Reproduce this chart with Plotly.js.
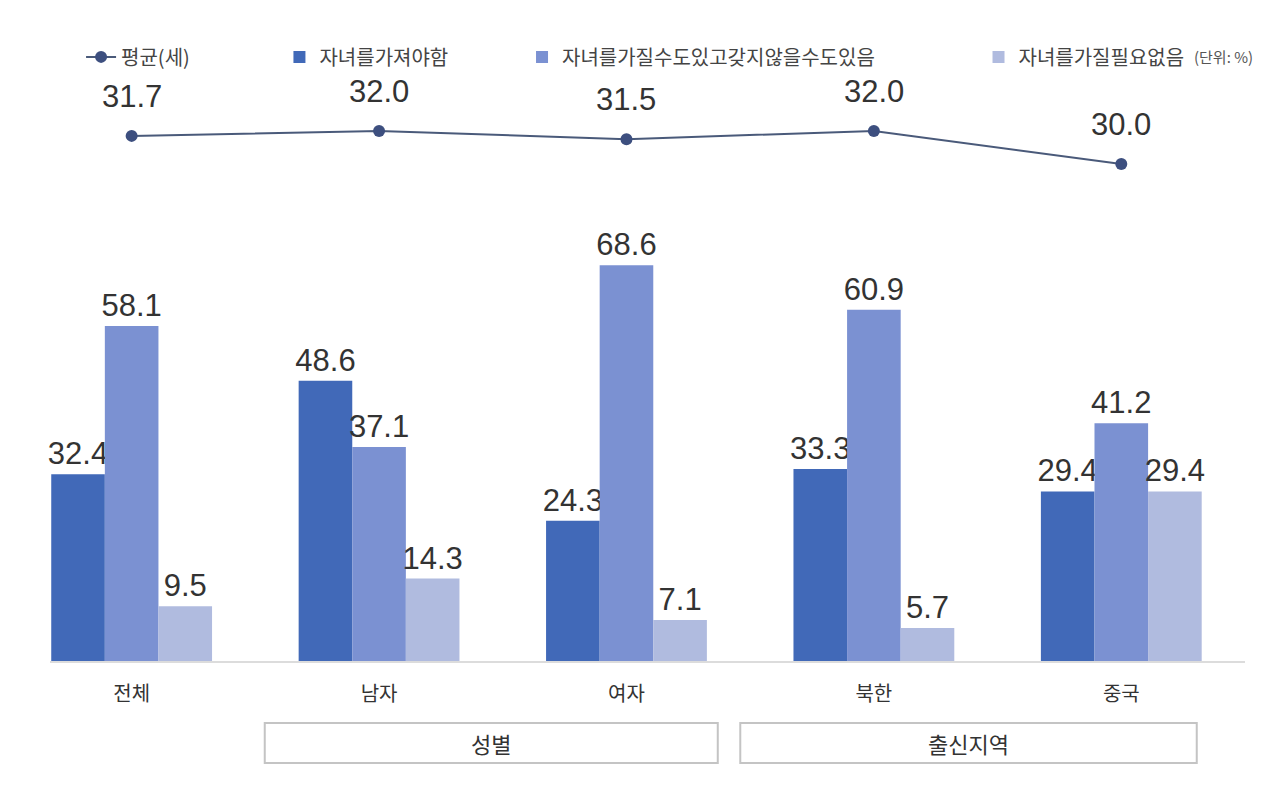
<!DOCTYPE html>
<html>
<head>
<meta charset="utf-8">
<script src="https://cdn.plot.ly/plotly-3.0.1.min.js"></script>
<style>
  html, body { margin: 0; padding: 0; background: #fff; }
  #myDiv { width: 1280px; height: 788px; }
</style>
</head>
<body>
<div id="myDiv"></div>
<script>
// Datos del gráfico
const categories = ['전체', '남자', '여자', '북한', '중국'];
const avgAge = [31.7, 32.0, 31.5, 32.0, 30.0];
const mustHave = [32.4, 48.6, 24.3, 33.3, 29.4];
const maybeHave = [58.1, 37.1, 68.6, 60.9, 41.2];
const noNeed = [9.5, 14.3, 7.1, 5.7, 29.4];
const seriesNames = ['평균(세)', '자녀를가져야함', '자녀를가질수도있고갖지않을수도있음', '자녀를가질필요없음'];
const groupLabels = ['성별', '출신지역'];

const FONT = 'Liberation Sans, Noto Sans CJK KR, sans-serif';
const KFONT = 'Noto Sans CJK KR, Liberation Sans, sans-serif';
const colors = ['#4169b8', '#7b91d2', '#b0bbdf'];

function barTrace(values, name, color, legend) {
    return {
        x: categories,
        y: values,
        name: name,
        type: 'bar',
        legend: legend,
        marker: { color: color },
        text: values.map(v => v.toFixed(1)),
        textposition: 'outside',
        constraintext: 'none',
        cliponaxis: false,
        textfont: { family: FONT, size: 31, color: '#333' },
        hoverinfo: 'none'
    };
}

let lineTrace = {
    x: categories,
    y: avgAge,
    name: seriesNames[0],
    type: 'scatter',
    mode: 'lines+markers',
    yaxis: 'y2',
    legend: 'legend',
    line: { color: '#4a5a7a', width: 2 },
    marker: { color: '#3d4f7f', size: 12 },
    cliponaxis: false,
    hoverinfo: 'none'
};

let traces = [
    lineTrace,
    barTrace(mustHave, seriesNames[1], colors[0], 'legend2'),
    barTrace(maybeHave, seriesNames[2], colors[1], 'legend3'),
    barTrace(noNeed, seriesNames[3], colors[2], 'legend4')
];

// Etiquetas de la línea (encima de los puntos)
let annotations = avgAge.map((v, i) => ({
    x: categories[i], y: v, xref: 'x', yref: 'y2',
    text: v.toFixed(1), showarrow: false,
    yanchor: 'bottom', yshift: 20,
    font: { family: FONT, size: 31, color: '#333' }
}));

// Cajas de agrupación
let boxes = [[0.538, 2.369], [2.46, 4.305]];
let shapes = boxes.map(b => ({
    type: 'rect', xref: 'x', yref: 'paper',
    x0: b[0], x1: b[1], y0: -0.1786, y1: -0.1086,
    line: { color: '#c4c4c4', width: 2 },
    fillcolor: 'rgba(0,0,0,0)'
}));
boxes.forEach((b, i) => {
    annotations.push({
        x: (b[0] + b[1]) / 2, y: -0.1436, xref: 'x', yref: 'paper',
        xanchor: 'center', yanchor: 'middle',
        text: groupLabels[i], showarrow: false,
        font: { family: KFONT, size: 22, color: '#333' }
    });
});

annotations.push({
    x: 1.008, y: 1.058, xref: 'paper', yref: 'paper',
    xanchor: 'right', yanchor: 'middle',
    text: '(단위: %)', showarrow: false,
    font: { family: KFONT, size: 15, color: '#555' }
});

function legendAt(x) {
    return {
        orientation: 'h', x: x, y: 1.058, xanchor: 'left', yanchor: 'middle',
        font: { family: KFONT, size: 20, color: '#444' },
        bgcolor: 'rgba(0,0,0,0)', itemwidth: 30
    };
}

let layout = {
    width: 1280,
    height: 788,
    margin: { l: 50, r: 35, t: 90, b: 127, pad: 0 },
    paper_bgcolor: '#fff',
    plot_bgcolor: '#fff',
    barmode: 'group',
    bargap: 0.35,
    bargroupgap: 0,
    showlegend: true,
    legend: legendAt(0.026),
    legend2: legendAt(0.192),
    legend3: legendAt(0.395),
    legend4: legendAt(0.777),
    xaxis: {
        range: [-0.33, 4.5],
        showline: true,
        linecolor: '#dcdcdc',
        linewidth: 2,
        ticks: '',
        ticklabelstandoff: 14,
        tickfont: { family: KFONT, size: 20, color: '#333' },
        showgrid: false,
        zeroline: false,
        fixedrange: true
    },
    yaxis: {
        range: [0, 99],
        visible: false,
        showgrid: false,
        zeroline: false,
        fixedrange: true
    },
    yaxis2: {
        range: [-0.12, 34.48],
        overlaying: 'y',
        visible: false,
        showgrid: false,
        zeroline: false,
        fixedrange: true
    },
    shapes: shapes,
    annotations: annotations
};

Plotly.newPlot('myDiv', traces, layout, { displayModeBar: false, staticPlot: true });
</script>
</body>
</html>
